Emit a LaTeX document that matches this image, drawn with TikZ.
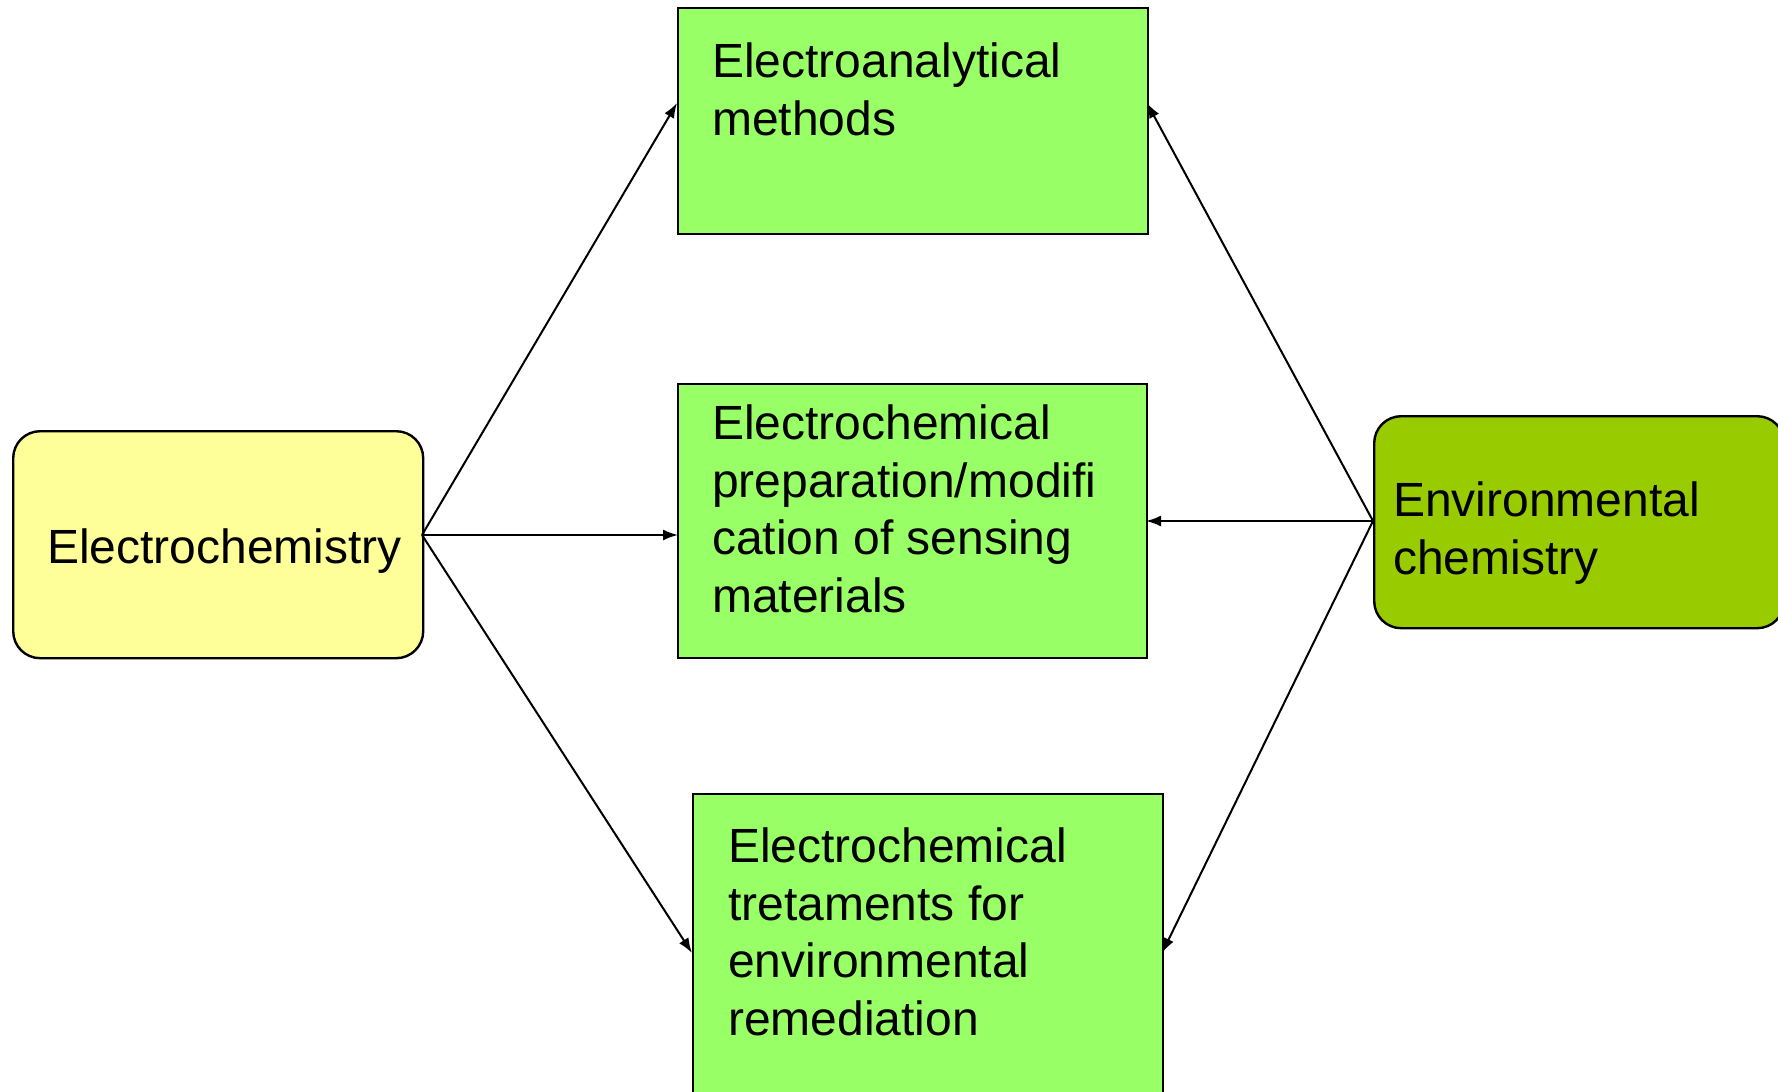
\documentclass[tikz,border=0pt]{standalone}
\usepackage{fontspec}
\setmainfont{Liberation Sans}
\usetikzlibrary{arrows.meta}
\definecolor{paleyellow}{HTML}{FFFF99}
\definecolor{lightgreen}{HTML}{99FF66}
\definecolor{olivegreen}{HTML}{99CC00}
\begin{document}
\begin{tikzpicture}[x=1pt,y=-1pt,
  box/.style={draw=black, line width=2.4pt, inner sep=0pt, anchor=north west},
  topic/.style={box, fill=lightgreen},
  field/.style={box, rounded corners=27pt},
  txt/.style={anchor=base west, align=left, inner sep=0pt,
    font=\fontsize{48}{57.5}\selectfont},
  link/.style={draw=black, line width=2pt, -{Latex[length=15pt,width=11pt]}}]
\clip (0,0) rectangle (1778,1092);
\fill[white] (0,0) rectangle (1778,1092);

% two fields
\node[field, fill=paleyellow, minimum width=410pt, minimum height=227pt] (ec) at (12,430) {};
\node[field, fill=olivegreen, minimum width=410pt, minimum height=212pt] (env) at (1373,415) {};

% three topics
\node[topic, minimum width=470pt, minimum height=226pt] (ea) at (677,7) {};
\node[topic, minimum width=469pt, minimum height=274pt] (prep) at (677,383) {};
\node[topic, minimum width=470pt, minimum height=330pt] (treat) at (692,793) {};

% labels (anchored at the baseline of their last line)
\node[txt] (ecT) at (47,563) {Electrochemistry};
\node[txt] (envT) at (1393,574) {Environmental\\chemistry};
\node[txt] (eaT) at (712,135) {Electroanalytical\\methods};
\node[txt] (prepT) at (712,612) {Electrochemical\\preparation/modifi\\cation of sensing\\materials};
\node[txt] (treatT) at (728,1035) {Electrochemical\\tretaments for\\environmental\\remediation};

% attachment points of the connectors
\coordinate (ecOut) at (422,535);
\coordinate (envOut) at (1373,521);
\coordinate (eaL) at (677,103);
\coordinate (eaR) at (1147,103);
\coordinate (prepL) at (678,535);
\coordinate (prepR) at (1146,521);
\coordinate (treatL) at (692,953);
\coordinate (treatR) at (1162,953);

% connectors
\draw[link] (ecOut) -- (eaL);
\draw[link] (ecOut) -- (prepL);
\draw[link] (ecOut) -- (treatL);
\draw[link] (envOut) -- (eaR);
\draw[link] (envOut) -- (prepR);
\draw[link] (envOut) -- (treatR);
\end{tikzpicture}
\end{document}
